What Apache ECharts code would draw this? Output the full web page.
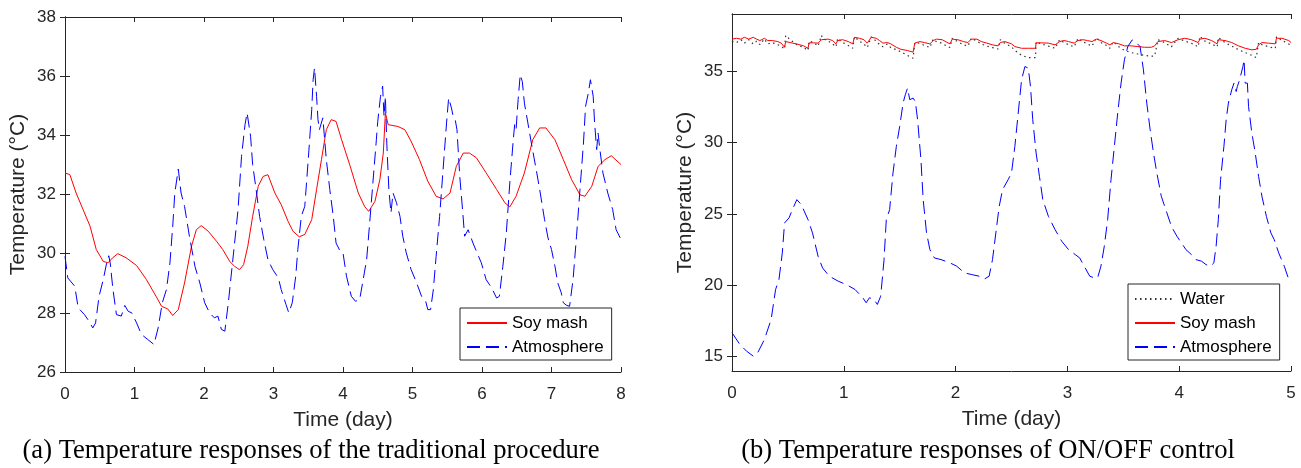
<!DOCTYPE html>
<html>
<head>
<meta charset="utf-8">
<script src="https://cdn.jsdelivr.net/npm/echarts@6/dist/echarts.min.js"></script>
<style>
html,body{margin:0;padding:0;background:#fff;}
#chart{width:1301px;height:468px;}
</style>
</head>
<body>
<div id="chart"></div>
<script>
// ---------- Panel (a): traditional procedure ----------
const leftXTicks = [0, 8, 1];          // min, max, step (days)
const leftYTicks = [26, 38, 2];        // min, max, step (°C)

const leftSoyX = [0,0.07,0.16,0.26,0.36,0.45,0.55,0.62,0.68,0.76,0.88,1.03,1.17,1.31,1.39,1.48,1.55,1.63,1.72,1.82,1.89,1.96,2.06,2.18,2.27,2.37,2.44,2.51,2.57,2.63,2.70,2.78,2.85,2.92,3.02,3.11,3.21,3.28,3.37,3.45,3.55,3.62,3.69,3.76,3.83,3.90,3.98,4.10,4.22,4.31,4.37,4.46,4.53,4.58,4.61,4.65,4.79,4.89,4.98,5.10,5.22,5.34,5.44,5.54,5.63,5.73,5.82,5.92,6.06,6.21,6.33,6.40,6.49,6.61,6.73,6.83,6.92,7.05,7.17,7.29,7.41,7.48,7.58,7.67,7.77,7.86,8.0];
const leftSoyT = [32.73,32.67,32.05,31.49,30.93,30.14,29.74,29.69,29.85,30.0,29.86,29.6,29.13,28.56,28.22,28.13,27.91,28.11,29.01,30.25,30.81,30.95,30.76,30.42,30.14,29.74,29.57,29.46,29.63,30.25,31.26,32.28,32.61,32.67,32.05,31.66,31.09,30.76,30.57,30.65,31.15,32.17,33.18,34.19,34.53,34.47,33.85,32.98,32.05,31.6,31.43,31.77,32.5,33.4,34.76,34.36,34.3,34.19,33.8,33.18,32.45,31.94,31.85,32.05,32.95,33.4,33.4,33.24,32.73,32.17,31.72,31.58,31.94,32.73,33.85,34.25,34.25,33.85,33.18,32.5,31.99,31.94,32.28,32.95,33.18,33.31,33.01];

const leftAtmX = [0,0.04,0.14,0.19,0.28,0.33,0.40,0.44,0.49,0.55,0.60,0.63,0.65,0.69,0.74,0.81,0.86,0.91,0.96,1.03,1.10,1.19,1.28,1.34,1.40,1.46,1.51,1.55,1.58,1.63,1.67,1.72,1.79,1.87,1.94,2.01,2.08,2.15,2.20,2.25,2.30,2.35,2.39,2.44,2.49,2.54,2.59,2.62,2.67,2.70,2.75,2.80,2.86,2.92,2.99,3.07,3.11,3.18,3.22,3.27,3.32,3.35,3.40,3.45,3.50,3.55,3.57,3.59,3.62,3.64,3.66,3.71,3.76,3.81,3.86,3.90,3.96,4.0,4.05,4.12,4.18,4.24,4.29,4.34,4.38,4.43,4.48,4.50,4.54,4.57,4.59,4.61,4.63,4.66,4.69,4.72,4.77,4.82,4.86,4.91,4.98,5.06,5.13,5.19,5.22,5.26,5.30,5.34,5.39,5.44,5.49,5.52,5.56,5.58,5.61,5.64,5.68,5.72,5.75,5.80,5.87,5.92,5.99,6.06,6.14,6.21,6.25,6.30,6.35,6.40,6.45,6.47,6.49,6.52,6.55,6.58,6.61,6.66,6.71,6.78,6.83,6.90,6.95,7.0,7.05,7.09,7.14,7.17,7.22,7.26,7.31,7.36,7.41,7.46,7.49,7.53,7.56,7.60,7.62,7.65,7.67,7.69,7.74,7.81,7.88,7.93,8.0];
const leftAtmT = [29.91,29.18,28.9,28.17,27.94,27.77,27.49,27.66,28.56,29.12,29.69,29.93,29.69,28.79,27.94,27.89,28.25,28.05,28.0,27.66,27.27,27.1,26.93,27.49,28.34,28.79,29.69,30.93,32.05,32.86,32.05,31.6,30.59,29.57,29.01,28.34,28.0,27.83,27.89,27.44,27.38,28.34,29.24,30.36,31.49,33.29,34.36,34.76,33.97,33.01,32.17,31.26,30.48,29.8,29.46,29.18,28.79,28.28,28.0,28.34,29.24,30.14,31.26,31.6,33.18,34.87,35.88,36.28,35.32,34.53,34.19,34.59,33.18,32.17,31.26,30.36,30.08,30.03,29.24,28.56,28.39,28.45,29.12,29.8,30.93,32.39,33.85,34.47,35.32,35.66,34.64,35.32,33.74,32.17,31.38,32.05,31.72,31.26,30.59,30.03,29.46,29.01,28.56,28.39,28.11,28.11,28.79,29.91,31.26,32.84,34.42,35.26,34.93,34.7,34.59,34.19,32.61,31.49,30.59,30.81,30.36,30.08,29.69,29.12,28.84,28.5,28.56,29.57,30.7,32.39,33.85,34.36,34.19,35.21,36.05,35.82,35.09,34.42,33.74,32.84,32.17,31.15,30.53,30.14,29.57,29.01,28.68,28.34,28.25,28.22,29.12,30.59,32.17,33.74,34.98,35.43,35.88,35.32,34.42,33.52,34.08,33.63,32.73,32.05,31.49,30.81,30.48];

// ---------- Panel (b): ON/OFF control ----------
const rightXTicks = [0, 5, 1];
const rightYRange = [14, 39];
const rightYTickValues = [15, 20, 25, 30, 35];

const rightMashX = [0,0.04,0.08,0.11,0.15,0.19,0.22,0.25,0.29,0.32,0.36,0.41,0.44,0.47,0.48,0.52,0.58,0.64,0.68,0.69,0.73,0.77,0.80,0.81,0.86,0.9,0.93,0.945,0.99,1.04,1.08,1.095,1.14,1.18,1.21,1.245,1.29,1.32,1.35,1.39,1.42,1.47,1.51,1.57,1.62,1.635,1.68,1.72,1.77,1.80,1.83,1.88,1.92,1.95,1.97,2.02,2.07,2.11,2.14,2.19,2.23,2.28,2.33,2.38,2.40,2.44,2.50,2.53,2.59,2.65,2.715,2.72,2.77,2.83,2.89,2.93,2.97,3.01,3.06,3.095,3.14,3.18,3.22,3.26,3.3,3.35,3.38,3.41,3.46,3.51,3.57,3.63,3.69,3.75,3.78,3.81,3.87,3.93,3.99,4.05,4.11,4.17,4.185,4.23,4.29,4.34,4.35,4.41,4.47,4.53,4.59,4.65,4.69,4.71,4.74,4.80,4.86,4.87,4.92,4.98,5.0];
const rightSoyT = [37.24,37.3,37.24,37.37,37.24,37.37,37.24,37.14,37.3,37.14,37.14,37.07,36.96,36.67,37.07,37.0,36.9,36.77,36.6,36.98,36.98,36.96,37.2,37.3,37.24,37.14,36.91,37.14,37.2,37.07,36.91,37.37,37.3,37.2,36.96,37.37,37.3,37.14,36.96,37.0,36.91,36.67,36.53,36.44,36.33,36.96,37.07,37.0,36.91,37.14,37.24,37.2,37.03,36.91,37.24,37.2,37.07,37.0,37.24,37.24,37.07,36.96,36.84,36.77,37.0,37.07,36.91,36.72,36.6,36.6,36.6,36.98,36.98,36.96,36.84,37.07,37.14,37.07,36.96,37.14,37.2,37.14,37.07,37.24,37.14,36.96,36.84,37.0,36.91,36.77,36.77,36.72,36.67,36.67,36.77,37.07,37.14,37.0,37.2,37.3,37.2,37.0,37.24,37.3,37.14,36.91,37.2,37.14,37.0,36.77,36.6,36.49,36.53,36.84,37.0,36.96,36.91,37.3,37.3,37.14,37.0];
const rightWaterT = [37.1,37.0,37.2,36.95,37.2,36.9,37.1,36.85,37.25,36.9,37.0,36.85,36.75,36.55,37.5,37.2,36.85,36.65,36.45,37.1,37.0,36.75,37.5,37.3,37.1,36.9,36.7,37.3,37.0,36.8,36.6,37.4,37.1,36.9,36.65,37.4,37.1,36.85,36.7,36.9,36.65,36.5,36.35,36.1,35.9,37.0,36.95,36.8,36.65,37.25,37.05,36.95,36.75,36.65,37.3,37.05,36.85,36.75,37.3,37.1,36.9,36.75,36.65,36.55,37.2,36.95,36.7,36.45,36.1,35.95,35.95,37.05,36.9,36.75,36.6,37.2,37.0,36.85,36.7,37.3,37.05,36.9,36.75,37.35,37.0,36.8,36.6,37.05,36.7,36.45,36.3,36.2,36.1,36.05,36.05,37.2,37.0,36.7,37.3,37.1,36.95,36.7,37.45,37.1,36.9,36.7,37.35,37.0,36.75,36.5,36.3,36.1,35.95,37.0,36.85,36.7,36.6,37.4,37.15,36.9,36.8];

const rightAtmX = [0,0.07,0.13,0.19,0.23,0.29,0.35,0.39,0.42,0.45,0.47,0.51,0.54,0.58,0.62,0.68,0.72,0.77,0.81,0.87,0.95,1.02,1.10,1.17,1.20,1.23,1.27,1.30,1.33,1.36,1.38,1.41,1.44,1.47,1.50,1.53,1.55,1.57,1.59,1.62,1.64,1.66,1.69,1.71,1.74,1.77,1.81,1.87,1.95,2.01,2.08,2.14,2.21,2.26,2.30,2.33,2.36,2.39,2.42,2.47,2.50,2.53,2.56,2.59,2.62,2.65,2.67,2.69,2.72,2.75,2.78,2.83,2.89,2.95,3.01,3.07,3.11,3.15,3.20,3.24,3.27,3.30,3.33,3.36,3.39,3.42,3.45,3.48,3.51,3.54,3.58,3.62,3.65,3.68,3.71,3.74,3.77,3.80,3.84,3.89,3.93,3.98,4.02,4.06,4.11,4.15,4.20,4.24,4.28,4.31,4.33,4.35,4.37,4.40,4.42,4.44,4.47,4.49,4.51,4.52,4.54,4.57,4.58,4.59,4.61,4.62,4.65,4.68,4.71,4.74,4.78,4.82,4.85,4.89,4.94,4.98,5.0];
const rightAtmT = [16.68,15.86,15.39,15.04,15.28,16.21,17.61,19.71,20.41,22.27,24.37,24.72,25.3,26.0,25.65,24.6,23.67,22.03,21.22,20.64,20.29,20.06,19.71,19.13,18.78,19.13,19.01,18.66,19.24,21.8,24.6,25.3,27.87,29.73,31.13,32.76,33.34,33.81,33.0,33.11,32.87,31.6,28.8,26.0,23.67,22.5,21.92,21.8,21.57,21.34,20.87,20.76,20.64,20.45,20.64,21.8,23.67,25.53,26.7,27.4,27.87,29.73,32.06,34.39,35.32,35.21,33.92,31.6,29.27,27.63,26.0,24.83,23.9,23.08,22.5,22.15,21.92,21.34,20.64,20.52,20.52,21.34,22.73,24.6,27.4,29.73,32.06,34.16,35.79,36.72,37.19,36.96,36.72,35.09,32.76,30.9,29.27,27.87,26.23,25.07,24.13,23.43,22.97,22.5,22.15,21.8,21.69,21.45,21.34,21.57,22.73,24.6,27.4,29.73,31.6,32.76,33.69,34.16,33.57,33.92,34.39,35.32,35.79,34.16,34.16,32.53,30.66,29.27,27.63,26.23,24.83,23.67,23.2,22.27,21.34,20.41,20.2];

const xName = 'Time (day)';
const yName = 'Temperature (°C)';
const captionA = '(a) Temperature responses of the traditional procedure';
const captionB = '(b) Temperature responses of ON/OFF control';

// ---------- build ----------
const pairs = (xs, ys) => xs.map((x, i) => [x, ys[i]]);
const AX = '#262626';
const SANS = '"Liberation Sans", Arial, sans-serif';
const SERIF = '"Liberation Serif", "Times New Roman", serif';
const tickStyle = {show: true, inside: true, length: 5, lineStyle: {color: AX, width: 1}};
const lineStyleAx = {show: true, lineStyle: {color: AX, width: 1}};
const labelStyle = {color: AX, fontSize: 17, fontFamily: SANS};
const nameStyle = {color: AX, fontSize: 21, fontFamily: SANS};

function xPair(grid, rng) {
  return [
    {gridIndex: grid, type: 'value', min: rng[0], max: rng[1], interval: rng[2], position: 'bottom',
     axisLine: lineStyleAx, axisTick: tickStyle, splitLine: {show: false},
     axisLabel: Object.assign({margin: 14}, labelStyle),
     name: xName, nameLocation: 'middle', nameGap: 38, nameTextStyle: nameStyle},
    {gridIndex: grid, type: 'value', min: rng[0], max: rng[1], interval: rng[2], position: 'top',
     axisLine: lineStyleAx, axisTick: tickStyle, splitLine: {show: false}, axisLabel: {show: false}}
  ];
}

const yAxes = [
  {gridIndex: 0, type: 'value', min: leftYTicks[0], max: leftYTicks[1], interval: leftYTicks[2], position: 'left',
   axisLine: lineStyleAx, axisTick: tickStyle, splitLine: {show: false},
   axisLabel: Object.assign({margin: 9}, labelStyle),
   name: yName, nameLocation: 'middle', nameGap: 36, nameTextStyle: nameStyle},
  {gridIndex: 0, type: 'value', min: leftYTicks[0], max: leftYTicks[1], interval: leftYTicks[2], position: 'right',
   axisLine: lineStyleAx, axisTick: tickStyle, splitLine: {show: false}, axisLabel: {show: false}},
  {gridIndex: 1, type: 'value', min: rightYRange[0], max: rightYRange[1], position: 'left',
   axisLine: lineStyleAx, axisTick: Object.assign({customValues: rightYTickValues}, tickStyle), splitLine: {show: false},
   axisLabel: Object.assign({margin: 9, customValues: rightYTickValues}, labelStyle),
   name: yName, nameLocation: 'middle', nameGap: 36, nameTextStyle: nameStyle},
  {gridIndex: 1, type: 'value', min: rightYRange[0], max: rightYRange[1], position: 'right',
   axisLine: lineStyleAx, axisTick: Object.assign({customValues: rightYTickValues}, tickStyle), splitLine: {show: false}, axisLabel: {show: false}}
];

const legendBase = {
  orient: 'vertical', selectedMode: false, backgroundColor: '#fff',
  borderColor: AX, borderWidth: 1, borderRadius: 0, padding: [6, 8, 4, 6],
  itemWidth: 40, itemHeight: 14, itemGap: 6,
  itemStyle: {opacity: 0},
  textStyle: {color: '#000', fontSize: 17, fontFamily: SANS, lineHeight: 18}
};

const RED = '#ff0000', BLUE = '#0000ff';
const dash = [13, 6];

const option = {
  animation: false,
  backgroundColor: '#fff',
  grid: [
    {left: 65, top: 17, width: 556, height: 355},
    {left: 732, top: 14, width: 559, height: 357}
  ],
  xAxis: xPair(0, leftXTicks).concat(xPair(1, rightXTicks)),
  yAxis: yAxes,
  legend: [
    Object.assign({data: ['Soy mash', 'Atmosphere'], left: 460, top: 308}, legendBase),
    Object.assign({data: ['Water', 'Soy mash', 'Atmosphere'], left: 1128, top: 284}, legendBase)
  ],
  graphic: [
    {type: 'text', x: 311, y: 451, style: {text: captionA, fill: '#000', font: '26.6px ' + SERIF, textAlign: 'center', textVerticalAlign: 'middle'}},
    {type: 'text', x: 988, y: 451, style: {text: captionB, fill: '#000', font: '26.6px ' + SERIF, textAlign: 'center', textVerticalAlign: 'middle'}}
  ],
  series: [
    {name: 'Soy mash', type: 'line', xAxisIndex: 0, yAxisIndex: 0, data: pairs(leftSoyX, leftSoyT),
     symbol: 'none', lineStyle: {color: RED, width: 1}, itemStyle: {color: RED}},
    {name: 'Atmosphere', type: 'line', xAxisIndex: 0, yAxisIndex: 0, data: pairs(leftAtmX, leftAtmT),
     symbol: 'none', lineStyle: {color: BLUE, width: 1, type: dash}, itemStyle: {color: BLUE}},
    {name: 'Water', type: 'line', xAxisIndex: 2, yAxisIndex: 2, data: pairs(rightMashX, rightWaterT),
     symbol: 'none', lineStyle: {color: '#333', width: 1.2, type: [1.5, 3.5]}, itemStyle: {color: '#333'}},
    {name: 'Soy mash', type: 'line', xAxisIndex: 2, yAxisIndex: 2, data: pairs(rightMashX, rightSoyT),
     symbol: 'none', lineStyle: {color: RED, width: 1}, itemStyle: {color: RED}},
    {name: 'Atmosphere', type: 'line', xAxisIndex: 2, yAxisIndex: 2, data: pairs(rightAtmX, rightAtmT),
     symbol: 'none', lineStyle: {color: BLUE, width: 1, type: dash}, itemStyle: {color: BLUE}}
  ]
};

const chart = echarts.init(document.getElementById('chart'));
chart.setOption(option);
</script>
</body>
</html>
